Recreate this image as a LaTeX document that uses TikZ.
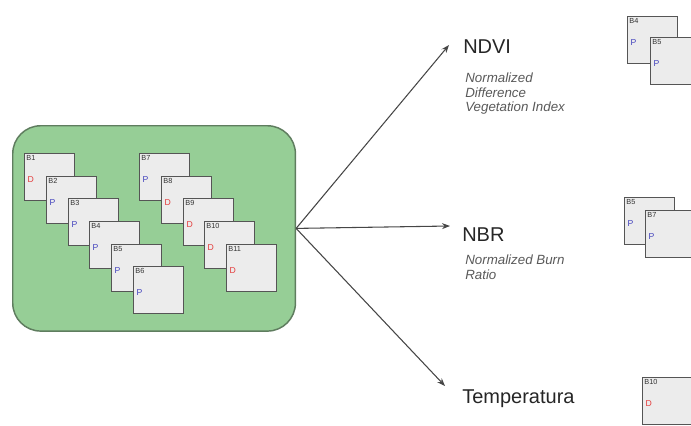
\documentclass[tikz,border=0pt]{standalone}
\usepackage{fontspec}
\setmainfont{Liberation Sans}
\usepackage{xcolor}
\usepackage{tikz}
\usetikzlibrary{arrows.meta,positioning,calc}
\definecolor{satgreen}{RGB}{150,206,150}
\definecolor{satedge}{RGB}{95,125,95}
\definecolor{cardgray}{RGB}{236,236,236}
\definecolor{cardedge}{RGB}{85,85,85}
\definecolor{dred}{RGB}{228,60,60}
\definecolor{pblue}{RGB}{70,70,190}
\definecolor{raygray}{RGB}{70,70,70}
\tikzstyle{satbox} = [rectangle, rounded corners=21pt, draw=satedge, line width=1.1pt, fill=satgreen, minimum width=212pt, minimum height=154pt, anchor=north west]
\tikzstyle{band} = [rectangle, draw=cardedge, line width=0.9pt, fill=cardgray, minimum width=37.5pt, minimum height=35.25pt, anchor=north west, inner sep=0pt]
\tikzstyle{bandtag} = [anchor=north west, inner sep=1.6pt, font=\fontsize{5.5}{6}\selectfont, text=black!80]
\tikzstyle{dtag} = [anchor=west, inner sep=2.6pt, font=\fontsize{6.5}{7}\selectfont, text=dred]
\tikzstyle{ptag} = [anchor=west, inner sep=2.6pt, font=\fontsize{6.5}{7}\selectfont, text=pblue]
\tikzstyle{index} = [anchor=base west, inner sep=0pt, font=\fontsize{15}{18}\selectfont, text=black!85]
\tikzstyle{note} = [anchor=north west, inner sep=0pt, align=left, font=\fontsize{10}{10.9}\selectfont\itshape, text=black!65]
\tikzstyle{ray} = [draw=raygray, line width=0.8pt, -{Stealth[length=6pt,width=4.5pt]}]

\begin{document}
\begin{tikzpicture}[x=0.75pt, y=-0.75pt]
    \useasboundingbox (0,0) rectangle (691,425);
    \clip (0,0) rectangle (691,425);
    % satellite bands
    \node[satbox] (sat) at (12,125) {};
    \node[band] (b1) at (24,153) {};
    \node[bandtag] at (b1.north west) {B1};
    \node[dtag] at ([yshift=-2pt]b1.west) {D};
    \node[band] (b2) at (46,176) {};
    \node[bandtag] at (b2.north west) {B2};
    \node[ptag] at ([yshift=-2pt]b2.west) {P};
    \node[band] (b3) at (68,198) {};
    \node[bandtag] at (b3.north west) {B3};
    \node[ptag] at ([yshift=-2pt]b3.west) {P};
    \node[band] (b4) at (89,221) {};
    \node[bandtag] at (b4.north west) {B4};
    \node[ptag] at ([yshift=-2pt]b4.west) {P};
    \node[band] (b5) at (111,244) {};
    \node[bandtag] at (b5.north west) {B5};
    \node[ptag] at ([yshift=-2pt]b5.west) {P};
    \node[band] (b6) at (133,266) {};
    \node[bandtag] at (b6.north west) {B6};
    \node[ptag] at ([yshift=-2pt]b6.west) {P};
    \node[band] (b7) at (139,153) {};
    \node[bandtag] at (b7.north west) {B7};
    \node[ptag] at ([yshift=-2pt]b7.west) {P};
    \node[band] (b8) at (161,176) {};
    \node[bandtag] at (b8.north west) {B8};
    \node[dtag] at ([yshift=-2pt]b8.west) {D};
    \node[band] (b9) at (183,198) {};
    \node[bandtag] at (b9.north west) {B9};
    \node[dtag] at ([yshift=-2pt]b9.west) {D};
    \node[band] (b10) at (204,221) {};
    \node[bandtag] at (b10.north west) {B10};
    \node[dtag] at ([yshift=-2pt]b10.west) {D};
    \node[band] (b11) at (226,244) {};
    \node[bandtag] at (b11.north west) {B11};
    \node[dtag] at ([yshift=-2pt]b11.west) {D};
    % indices
    \node[index] (ndvi) at (463,53) {NDVI};
    \node[note] (ndvinote) at (465,73) {Normalized\\Difference\\Vegetation Index};
    \node[index] (nbr) at (462,241) {NBR};
    \node[note] (nbrnote) at (465,255) {Normalized Burn\\Ratio};
    \node[index] (temp) at (462,403) {Temperatura};
    \coordinate (ndvitip) at (449,45);
    \coordinate (nbrtip) at (450,226);
    \coordinate (temptip) at (445,386);
    \draw[ray] (sat.east) -- (ndvitip);
    \draw[ray] (sat.east) -- (nbrtip);
    \draw[ray] (sat.east) -- (temptip);
    % bands used by each index
    \node[band] (n4) at (627,16) {};
    \node[bandtag] at (n4.north west) {B4};
    \node[ptag] at ([yshift=-2pt]n4.west) {P};
    \node[band] (n5) at (650,37) {};
    \node[bandtag] at (n5.north west) {B5};
    \node[ptag] at ([yshift=-2pt]n5.west) {P};
    \node[band] (r5) at (624,197) {};
    \node[bandtag] at (r5.north west) {B5};
    \node[ptag] at ([yshift=-2pt]r5.west) {P};
    \node[band] (r7) at (645,210) {};
    \node[bandtag] at (r7.north west) {B7};
    \node[ptag] at ([yshift=-2pt]r7.west) {P};
    \node[band] (t10) at (642,377) {};
    \node[bandtag] at (t10.north west) {B10};
    \node[dtag] at ([yshift=-2pt]t10.west) {D};
\end{tikzpicture}
\end{document}
